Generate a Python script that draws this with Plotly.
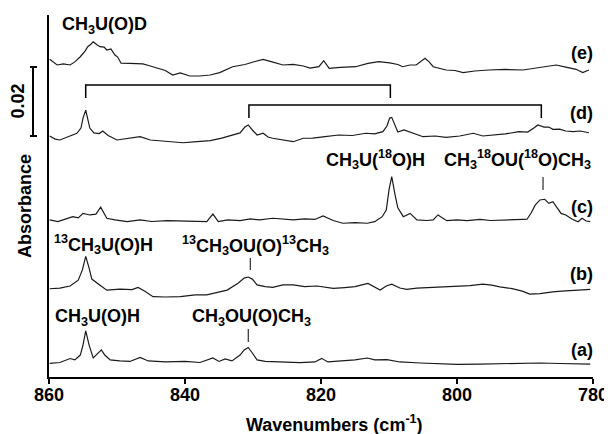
import plotly.graph_objects as go

# ---- data (wavenumber in cm-1, absorbance in milli-absorbance units, relative to each trace's baseline) ----
wn_a = [859.9, 858.4, 856.9, 856.2, 855.4, 855.0, 854.6, 854.1, 853.5, 852.8, 852.3, 851.8, 851.0, 849.6, 848.1,
        846.6, 845.4, 842.9, 840.0, 837.8, 835.9, 835.0, 834.1, 833.1, 831.9, 831.3, 830.7, 830.1, 829.4, 828.2,
        825.3, 823.1, 820.9, 819.9, 819.0, 817.2, 815.0, 813.2, 812.1, 810.3, 808.4, 805.4, 802.5, 800.0, 796.6,
        793.7, 790.7, 787.8, 784.9, 782.6, 780.4]
abs_a = [-0.1, 0.15, 1.3, 0.9, 2.3, 5.2, 9.3, 5.2, 1.45, 2.9, 3.8, 2.3, 0.9, 0.6, 0.45,
         1.6, 0.6, 0.3, 0.45, 0.15, 1.45, 0.45, 1.2, 0.6, 2.3, 3.8, 4.5, 2.9, 0.9, 0.45,
         0.15, 0.1, 0.3, 1.35, 0.3, 0.6, 0.9, 1.45, 0.9, 1.0, 0.3, 0.0, -0.15, -0.4, -0.3,
         -0.15, -0.15, 0.0, -0.15, -0.15, -0.3]

wn_b = [859.9, 858.4, 856.9, 855.7, 855.1, 854.6, 854.1, 853.7, 852.5, 851.5, 849.6, 847.8, 846.9, 845.9, 844.7,
        842.9, 840.7, 838.5, 836.8, 835.1, 833.8, 832.2, 831.3, 830.7, 830.1, 829.4, 828.2, 827.1, 825.6, 824.1,
        822.4, 820.6, 819.4, 818.2, 816.5, 815.0, 813.1, 812.1, 811.3, 810.4, 809.6, 808.4, 807.4, 805.9, 804.0,
        802.1, 800.3, 798.1, 796.2, 794.9, 793.7, 791.9, 790.4, 789.3, 787.8, 786.6, 785.9, 784.6, 782.6, 780.4]
abs_b = [0.1, 0.3, 0.9, 2.6, 5.5, 9.5, 6.1, 2.9, 1.1, -0.3, 0.0, -0.15, 0.5, -0.6, -2.2,
         -2.3, -2.2, -1.7, -1.7, -0.9, -0.3, 1.7, 3.2, 3.5, 2.9, 1.2, 0.7, 0.5, 1.2, 1.2,
         0.7, 0.9, 0.45, 0.2, 0.45, 0.7, 1.65, 0.6, -0.3, 0.9, 1.45, 0.3, -0.1, 0.3, 0.45,
         0.65, 0.65, 1.0, 1.45, 1.15, 0.65, 0.15, -0.6, -1.45, -1.3, -0.9, -0.8, -0.6, -0.3, -0.1]

wn_c = [859.9, 858.7, 857.5, 856.5, 855.7, 855.0, 854.0, 853.1, 852.4, 851.9, 851.5, 850.3, 848.5, 846.6, 844.9,
        842.6, 840.7, 838.5, 836.8, 835.9, 835.1, 833.7, 831.9, 830.4, 829.0, 827.1, 825.6, 824.1, 822.4, 820.9,
        819.7, 818.2, 816.8, 815.0, 813.2, 812.1, 811.0, 810.4, 810.0, 809.6, 809.1, 808.7, 807.9, 806.9, 805.9,
        804.4, 803.5, 802.8, 801.5, 800.0, 798.5, 796.6, 795.1, 793.7, 791.9, 790.4, 789.7, 789.1, 788.5, 787.8,
        787.1, 786.5, 785.9, 785.3, 784.7, 784.0, 783.1, 782.2, 781.6, 781.0, 780.4]
abs_c = [0.3, -0.15, 0.6, 1.25, 0.9, 2.2, 1.75, 2.0, 4.0, 2.3, 0.8, 0.3, -0.2, 0.3, -0.15,
         0.1, 0.0, 0.0, -0.2, 2.0, -0.2, 0.3, 0.1, 0.6, 0.3, 0.8, 0.45, 0.3, 0.6, 0.45,
         1.45, 0.15, -0.65, -0.45, -0.65, -0.2, 1.25, 3.2, 9.0, 12.85, 7.5, 3.8, 1.25, 2.2, 0.3,
         0.15, 0.3, 1.75, 0.1, 0.3, 0.1, 0.45, 0.15, 0.3, 0.45, 0.45, 0.5, 2.3, 4.6, 6.1,
         6.3, 5.1, 5.6, 3.8, 2.2, 1.75, 0.6, -0.2, 0.8, 0.0, -0.2]

wn_d = [859.9, 859.1, 858.4, 857.2, 855.9, 855.3, 855.0, 854.6, 854.3, 854.0, 853.4, 852.6, 852.1, 851.3, 850.0,
        848.4, 846.6, 845.1, 843.7, 841.9, 840.3, 838.2, 836.3, 834.6, 833.0, 831.9, 831.2, 830.7, 830.1, 829.4,
        828.5, 827.8, 827.1, 825.6, 824.1, 822.6, 821.2, 819.4, 817.4, 815.4, 813.4, 812.1, 810.9, 810.3, 809.9,
        809.6, 809.1, 808.7, 807.8, 807.1, 806.0, 805.0, 803.2, 801.6, 799.6, 797.6, 796.2, 794.7, 792.9, 790.9,
        789.6, 788.7, 788.1, 787.2, 786.5, 785.9, 784.9, 784.0, 782.9, 781.9, 780.6]
abs_d = [0.0, -0.9, -1.15, -0.3, 0.8, 2.3, 5.2, 7.5, 5.2, 2.3, 0.9, 0.7, 1.45, 0.15, -1.15,
         -0.6, -0.2, -1.15, -1.35, -1.75, -1.95, -1.6, -1.35, -0.6, 0.3, 0.9, 2.6, 3.2, 1.75, 0.3,
         0.8, -0.3, -0.65, -1.15, -1.65, -0.65, -0.6, -0.15, 0.3, 0.15, 0.8, 0.6, 1.25, 2.9, 5.2,
         5.4, 3.2, 1.15, 1.75, 1.25, 0.6, -0.2, 0.0, -0.4, 0.0, 0.8, 0.0, 0.3, 0.6, 1.25,
         1.15, 2.3, 3.2, 2.6, 2.6, 1.95, 2.0, 1.45, 1.25, 1.45, 0.95]

wn_e = [859.9, 859.3, 858.8, 857.9, 856.9, 856.2, 855.4, 854.7, 854.3, 853.8, 853.5, 852.9, 852.5, 851.9, 851.5,
        850.9, 850.3, 849.9, 849.4, 848.1, 846.2, 845.1, 844.1, 842.9, 841.8, 840.7, 839.3, 837.8, 836.3, 834.9,
        833.0, 831.2, 829.7, 828.5, 827.2, 825.6, 824.1, 822.6, 821.6, 820.3, 819.6, 818.8, 817.2, 814.9, 813.1,
        811.5, 809.9, 808.7, 808.0, 806.9, 806.0, 805.3, 804.7, 804.1, 803.5, 801.6, 800.3, 799.1, 797.4, 795.3,
        792.9, 790.3, 787.8, 785.4, 784.0, 782.5, 781.5, 780.6]
abs_e = [1.65, 0.6, 0.0, 0.3, 0.0, 0.9, 2.4, 4.05, 5.3, 6.1, 6.75, 5.8, 5.3, 5.2, 4.35,
         4.65, 2.9, 2.3, 0.5, 0.45, 0.3, -0.3, -0.95, -1.6, -2.9, -2.3, -3.2, -3.2, -2.9, -2.2,
         -0.5, 0.15, 1.0, 1.65, 0.9, 0.0, 0.15, -0.3, -0.9, -0.5, 1.25, -0.95, -0.7, -0.5, 0.45,
         0.95, 0.6, 0.15, -0.5, 0.0, 0.0, 1.0, 1.95, 0.9, -0.5, -1.45, -1.6, -2.2, -1.75, -1.45,
         -1.3, -1.45, -0.6, 0.0, -0.6, -1.25, -2.2, -1.45]

trace_labels = ["(a)", "(b)", "(c)", "(d)", "(e)"]
x_ticks = [860, 840, 820, 800, 780]
scale_bar_value = 0.02

# ---- layout helpers (positions / styles) ----
STACK_OFFSETS = [0.00406, 0.0255, 0.04525, 0.0699, 0.0905]
Y_RANGE = [0, 0.105]
LINE_COLOR = "#1a1a1a"
FONT = "Liberation Sans, Arial, sans-serif"

fig = go.Figure()
series = [(wn_a, abs_a), (wn_b, abs_b), (wn_c, abs_c), (wn_d, abs_d), (wn_e, abs_e)]
for (wx, wy), off, name in zip(series, STACK_OFFSETS, trace_labels):
    fig.add_trace(go.Scatter(
        x=wx, y=[v / 1000.0 + off for v in wy], mode="lines", name=name,
        line=dict(color=LINE_COLOR, width=1.2), showlegend=False, hoverinfo="skip"))

# the page body has an 8px default margin, so the figure is 8px smaller than the window
fig.update_layout(
    width=604, height=426,
    margin=dict(l=41, r=19, t=7, b=57, autoexpand=False),
    paper_bgcolor="white", plot_bgcolor="white",
    font=dict(family=FONT, size=18, color="black", weight="bold"),
    xaxis=dict(range=[860, 780], tickvals=x_ticks, ticktext=[str(t) for t in x_ticks],
               ticks="outside", ticklen=5, tickwidth=1.5, tickcolor="black",
               showline=True, linecolor="black", linewidth=2, showgrid=False, zeroline=False,
               automargin=False, ticklabelstandoff=-5,
               tickfont=dict(family=FONT, size=18, color="black", weight="bold")),
    yaxis=dict(range=Y_RANGE, showticklabels=False, ticks="", showline=True, automargin=False,
               linecolor="black", linewidth=2, showgrid=False, zeroline=False),
)

def ann(text, x, y, xanchor="left", yanchor="middle", size=18, angle=0):
    fig.add_annotation(text=text, x=x, y=y, xref="paper", yref="paper", xanchor=xanchor,
                       yanchor=yanchor, showarrow=False, textangle=angle,
                       font=dict(family=FONT, size=size, color="black", weight="bold"))

# axis titles
ann("Wavenumbers (cm<sup>-1</sup>)", 0.5257, -0.128, xanchor="center")
ann("Absorbance", -0.0441, 0.4724, xanchor="center", angle=-90)
ann(f"{scale_bar_value:.2f}", -0.057, 0.7638, xanchor="center", angle=-90)

# trace labels
for lab, yy in zip(trace_labels, [0.0746, 0.2845, 0.470, 0.729, 0.895]):
    ann(lab, 1.0037, yy, xanchor="right")

# species labels
ann("CH<sub>3</sub>U(O)D", 0.020, 0.972)
ann("CH<sub>3</sub>U(<sup>18</sup>O)H", 0.5055, 0.602)
ann("CH<sub>3</sub><sup>18</sup>OU(<sup>18</sup>O)CH<sub>3</sub>", 1.0, 0.602, xanchor="right")
ann("<sup>13</sup>CH<sub>3</sub>U(O)H", 0.0055, 0.367)
ann("<sup>13</sup>CH<sub>3</sub>OU(O)<sup>13</sup>CH<sub>3</sub>", 0.2408, 0.3646)
ann("CH<sub>3</sub>U(O)H", 0.0074, 0.1657)
ann("CH<sub>3</sub>OU(O)CH<sub>3</sub>", 0.259, 0.1657)

line_style = dict(color="black", width=1.5)
# small marker ticks under labels
for xv, y0, y1 in [(787.35, 0.5525, 0.5166), (830.4, 0.3287, 0.2956), (830.7, 0.1326, 0.0967)]:
    fig.add_shape(type="line", xref="x", yref="paper", x0=xv, x1=xv, y0=y0, y1=y1,
                  line=dict(color="black", width=1))

# brackets
for xa, xb, yt, yb in [(854.6, 809.8, 0.8066, 0.7707), (830.6, 787.6, 0.7514, 0.7155)]:
    fig.add_shape(type="path", xref="x", yref="paper",
                  path=f"M {xa},{yb} L {xa},{yt} L {xb},{yt} L {xb},{yb}",
                  line=line_style)

# scale bar (outside plot area, paper coords)
fig.add_shape(type="line", xref="paper", yref="paper", x0=-0.0294, x1=-0.0294, y0=0.6657, y1=0.8564,
              line=dict(color="black", width=2))
for yy in (0.6657, 0.8564):
    fig.add_shape(type="line", xref="paper", yref="paper", x0=-0.0349, x1=-0.0221, y0=yy, y1=yy,
                  line=dict(color="black", width=2))

fig.write_html("out.html")
